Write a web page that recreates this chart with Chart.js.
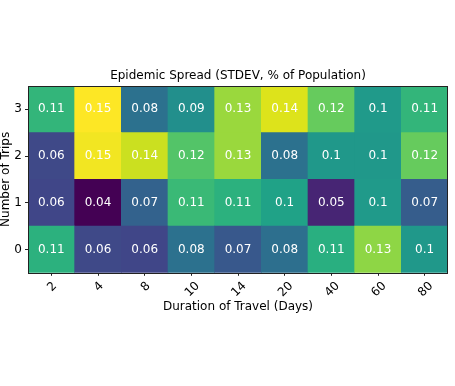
<!DOCTYPE html>
<html lang="en">
<head>
    <meta charset="UTF-8">
    <title>Epidemic Spread (STDEV, % of Population)</title>
    <script src="https://cdn.jsdelivr.net/npm/chart.js"></script>
    <style>
        html, body {
            margin: 0;
            padding: 0;
            background-color: #ffffff;
        }
        .chart-container {
            width: 455px;
            height: 386px;
        }
    </style>
</head>
<body>
    <div class="chart-container">
        <canvas id="heatChart"></canvas>
    </div>
    <script>
        // Heatmap data: one array per number of trips, columns follow durations
        const durations = ['2', '4', '8', '10', '14', '20', '40', '60', '80'];
        const trips = [0, 1, 2, 3];
        const trips0 = [0.110, 0.064, 0.063, 0.081, 0.070, 0.080, 0.109, 0.131, 0.098];
        const trips1 = [0.063, 0.040, 0.074, 0.114, 0.110, 0.103, 0.051, 0.099, 0.072];
        const trips2 = [0.064, 0.148, 0.141, 0.120, 0.133, 0.081, 0.098, 0.098, 0.124];
        const trips3 = [0.112, 0.150, 0.081, 0.094, 0.133, 0.144, 0.124, 0.099, 0.112];
        const rows = [trips0, trips1, trips2, trips3];
        const chartTitle = 'Epidemic Spread (STDEV, % of Population)';

        // viridis colormap stops
        const viridisStops = ['#440154', '#48186a', '#472d7b', '#424086', '#3b528b', '#33638d',
            '#2c728e', '#26828e', '#21918c', '#1fa088', '#28ae80', '#3fbc73', '#5ec962',
            '#84d44b', '#addc30', '#d8e219', '#fde725'];

        function hexToRgb(h) {
            return [parseInt(h.slice(1, 3), 16), parseInt(h.slice(3, 5), 16), parseInt(h.slice(5, 7), 16)];
        }

        function viridis(t) {
            t = Math.max(0, Math.min(1, t));
            const pos = t * (viridisStops.length - 1);
            const i = Math.min(Math.floor(pos), viridisStops.length - 2);
            const f = pos - i;
            const a = hexToRgb(viridisStops[i]);
            const b = hexToRgb(viridisStops[i + 1]);
            const c = a.map((v, k) => Math.round(v + (b[k] - v) * f));
            return 'rgb(' + c.join(',') + ')';
        }

        const allValues = rows.flat();
        const vmin = Math.min(...allValues);
        const vmax = Math.max(...allValues);

        const font = { family: '"DejaVu Sans", sans-serif', size: 12, weight: 'normal' };
        const fontCss = '12px "DejaVu Sans", sans-serif';

        // each row is a floating bar dataset spanning its trip value +/- 0.5
        const datasets = rows.map((vals, r) => ({
            label: 'Trips ' + trips[r],
            data: vals.map(() => [trips[r] - 0.5, trips[r] + 0.5]),
            cellValues: vals,
            backgroundColor: vals.map(v => viridis((v - vmin) / (vmax - vmin))),
            borderWidth: 0,
            barPercentage: 1,
            categoryPercentage: 1,
            grouped: false
        }));

        // title over the axes, cell text, axes frame and rotated x labels
        const heatDecor = {
            id: 'heatDecor',
            afterDatasetsDraw(chart) {
                const ctx = chart.ctx;
                const area = chart.chartArea;
                ctx.save();
                ctx.font = fontCss;
                ctx.textAlign = 'center';
                ctx.textBaseline = 'middle';

                ctx.fillStyle = '#000000';
                ctx.fillText(chartTitle, (area.left + area.right) / 2, area.top - 10);

                ctx.fillStyle = '#ffffff';
                chart.data.datasets.forEach((ds, di) => {
                    const meta = chart.getDatasetMeta(di);
                    meta.data.forEach((bar, i) => {
                        const v = ds.cellValues[i];
                        const label = String(Math.round(v * 100) / 100);
                        ctx.fillText(label, bar.x, (bar.y + bar.base) / 2);
                    });
                });

                ctx.strokeStyle = '#222222';
                ctx.lineWidth = 1;
                ctx.strokeRect(Math.round(area.left) + 0.5, Math.round(area.top) + 0.5,
                    Math.round(area.right - area.left) - 1, Math.round(area.bottom - area.top));

                // x tick labels rotated 45 degrees, centred on the tick
                const xs = chart.scales.x;
                ctx.fillStyle = '#000000';
                const top = area.bottom + 7;
                const s = Math.SQRT1_2;
                durations.forEach((lab, i) => {
                    const x = xs.getPixelForTick(i);
                    const w = ctx.measureText(lab).width;
                    const h = 12;
                    const cy = top + (w * s + h * s) / 2;
                    ctx.save();
                    ctx.translate(x + 1, cy);
                    ctx.rotate(-Math.PI / 4);
                    ctx.fillText(lab, 0, 0);
                    ctx.restore();
                });
                ctx.restore();
            }
        };

        const heatCtx = document.getElementById('heatChart').getContext('2d');
        const heatChart = new Chart(heatCtx, {
            type: 'bar',
            data: {
                labels: durations,
                datasets: datasets
            },
            options: {
                responsive: true,
                maintainAspectRatio: false,
                animation: false,
                layout: {
                    padding: { left: 0, right: 7, top: 86, bottom: 72 }
                },
                plugins: {
                    legend: { display: false },
                    tooltip: { enabled: false },
                    title: { display: false }
                },
                scales: {
                    x: {
                        type: 'category',
                        offset: true,
                        grid: {
                            display: true,
                            drawOnChartArea: false,
                            drawTicks: true,
                            tickLength: 3,
                            offset: false,
                            color: '#222222'
                        },
                        border: { display: false },
                        ticks: {
                            color: 'rgba(0,0,0,0)',
                            font: font,
                            minRotation: 45,
                            maxRotation: 45
                        },
                        title: {
                            display: true,
                            text: 'Duration of Travel (Days)',
                            color: '#000000',
                            font: font,
                            padding: 0
                        },
                        afterFit: scale => { scale.height = 41.2; }
                    },
                    y: {
                        type: 'linear',
                        min: -0.5,
                        max: 3.5,
                        afterBuildTicks: scale => {
                            scale.ticks = trips.map(v => ({ value: v }));
                        },
                        grid: {
                            display: true,
                            drawOnChartArea: false,
                            drawTicks: true,
                            tickLength: 3,
                            color: '#222222'
                        },
                        border: { display: false },
                        ticks: {
                            color: '#000000',
                            font: font,
                            padding: 3
                        },
                        title: {
                            display: true,
                            text: 'Number of Trips',
                            color: '#000000',
                            font: font,
                            padding: { top: -1, bottom: 0 }
                        },
                        afterFit: scale => { scale.width = 28; }
                    }
                }
            },
            plugins: [heatDecor]
        });
    </script>
</body>
</html>
